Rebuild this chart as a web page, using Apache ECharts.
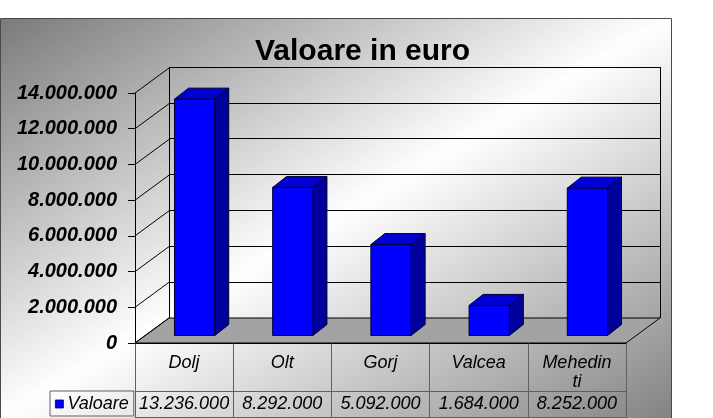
<!DOCTYPE html>
<html>
<head>
<meta charset="utf-8">
<script src="https://cdn.jsdelivr.net/npm/echarts@6/dist/echarts.min.js"></script>
<style>html,body{margin:0;padding:0;background:#fff}#c{width:713px;height:418px}</style>
</head>
<body>
<div id="c"></div>
<script>
const titleText = 'Valoare in euro';
const seriesName = 'Valoare';
const categories = ['Dolj', 'Olt', 'Gorj', 'Valcea', 'Mehedinti'];
const values = [13236000, 8292000, 5092000, 1684000, 8252000];
const yTicks = [0, 2000000, 4000000, 6000000, 8000000, 10000000, 12000000, 14000000];

const fmt = v => String(v).replace(/\B(?=(\d{3})+(?!\d))/g, '.');
const FONT = '"Liberation Sans", Arial, sans-serif';
const DEPTH = [34, -25];      // back wall offset
const BAR_FRONT = [10.5, -7.5];
const BAR_DEPTH = [14, -11];

const chart = echarts.init(document.getElementById('c'), null, {renderer: 'canvas'});

const option = {
  animation: false,
  backgroundColor: '#ffffff',
  textStyle: {fontFamily: FONT},
  graphic: [{
    type: 'rect', z: -100, silent: true,
    shape: {x: 0.5, y: 18.5, width: 671, height: 420},
    style: {
      fill: new echarts.graphic.LinearGradient(160, -77, 512, 513, [
        {offset: 0, color: '#7a7a7a'},
        {offset: 0.5, color: '#ffffff'},
        {offset: 1, color: '#838383'}
      ], true),
      stroke: '#4a4a4a', lineWidth: 1
    }
  }],
  title: {
    text: titleText, left: 250, top: 32,
    textStyle: {fontFamily: FONT, fontSize: 30, fontWeight: 'bold', color: '#000'}
  },
  legend: {
    data: [seriesName], left: 50, top: 391,
    padding: [4, 5, 3, 5], borderColor: '#606060', borderWidth: 1,
    icon: 'rect', itemWidth: 8, itemHeight: 8,
    itemStyle: {borderColor: '#000050', borderWidth: 0.8},
    textStyle: {fontFamily: FONT, fontSize: 18, fontStyle: 'italic', color: '#000', padding: [0, 0, 0, -1]}
  },
  grid: [
    {left: 135, right: 87, top: 93, bottom: 75},
    {left: 169, right: 53, top: 67, bottom: 100}
  ],
  xAxis: [
    {
      gridIndex: 0, type: 'category', data: categories, position: 'bottom',
      axisLine: {lineStyle: {color: '#000', width: 1}},
      axisTick: {show: true, interval: 0, length: 48, lineStyle: {color: '#606060'}},
      axisLabel: {
        interval: 0, margin: 10, width: 72, overflow: 'breakAll', lineHeight: 19,
        fontFamily: FONT, fontSize: 18, fontStyle: 'italic', color: '#000', align: 'center'
      },
      splitLine: {show: false}
    },
    {
      gridIndex: 0, type: 'category', data: values.map(fmt), position: 'bottom', offset: 48,
      axisLine: {lineStyle: {color: '#606060', width: 1}},
      axisTick: {show: true, interval: 0, length: 27, lineStyle: {color: '#606060'}},
      axisLabel: {interval: 0, margin: 4, fontFamily: FONT, fontSize: 18, fontStyle: 'italic', color: '#000'},
      splitLine: {show: false}
    },
    {
      gridIndex: 0, type: 'category', data: categories, position: 'bottom', offset: 74,
      axisLine: {lineStyle: {color: '#606060', width: 1}},
      axisTick: {show: false}, axisLabel: {show: false}, splitLine: {show: false}
    },
    {
      gridIndex: 1, type: 'value', min: 0, max: 1, interval: 1,
      axisLine: {show: false}, axisTick: {show: false}, axisLabel: {show: false},
      splitLine: {show: true, lineStyle: {color: '#000', width: 1}}
    }
  ],
  yAxis: [
    {
      gridIndex: 0, type: 'value', min: 0, max: 14000000, interval: 2000000,
      axisLine: {show: true, lineStyle: {color: '#000', width: 1}},
      axisTick: {show: true, length: 7, lineStyle: {color: '#000'}},
      axisLabel: {
        margin: 18, formatter: v => fmt(v),
        fontFamily: FONT, fontSize: 20, fontStyle: 'italic', fontWeight: 'bold', color: '#000'
      },
      splitLine: {show: false}
    },
    {
      gridIndex: 1, type: 'value', min: 0, max: 14000000, interval: 2000000,
      axisLine: {show: false}, axisTick: {show: false}, axisLabel: {show: false},
      splitLine: {show: true, lineStyle: {color: '#000', width: 1}}
    }
  ],
  series: [
    {
      name: 'floor', type: 'custom', xAxisIndex: 0, yAxisIndex: 0, z: 1, silent: true,
      data: [[0, 0]],
      renderItem: function (params, api) {
        const cs = params.coordSys;
        const base = api.coord([0, 0])[1];
        const x0 = cs.x, x1 = cs.x + cs.width;
        return {
          type: 'polygon',
          shape: {points: [[x0, base], [x1, base], [x1 + DEPTH[0], base + DEPTH[1]], [x0 + DEPTH[0], base + DEPTH[1]]]},
          style: {fill: '#a3a3a3', stroke: '#000', lineWidth: 1}
        };
      }
    },
    {
      name: 'sidewall', type: 'custom', xAxisIndex: 0, yAxisIndex: 0, z: 1, silent: true,
      data: yTicks.map(v => [0, v]),
      renderItem: function (params, api) {
        const cs = params.coordSys;
        const y = api.coord([0, api.value(1)])[1];
        return {
          type: 'line',
          shape: {x1: cs.x, y1: y, x2: cs.x + DEPTH[0], y2: y + DEPTH[1]},
          style: {stroke: '#000', lineWidth: 1}
        };
      }
    },
    {
      name: seriesName, type: 'custom', xAxisIndex: 0, yAxisIndex: 0, z: 3,
      itemStyle: {color: '#0000ff'},
      data: values.map((v, i) => [i, v]),
      renderItem: function (params, api) {
        const idx = api.value(0);
        const base = api.coord([idx, 0]);
        const top = api.coord([idx, api.value(1)]);
        const bw = api.size([1, 0])[0] * 0.41;
        const cx = base[0] + BAR_FRONT[0];
        const xl = cx - bw / 2, xr = cx + bw / 2;
        const yb = base[1] + BAR_FRONT[1], yt = top[1] + BAR_FRONT[1];
        const dx = BAR_DEPTH[0], dy = BAR_DEPTH[1];
        const stroke = '#000033';
        return {
          type: 'group',
          children: [
            {type: 'polygon', shape: {points: [[xr, yt], [xr + dx, yt + dy], [xr + dx, yb + dy], [xr, yb]]},
             style: {fill: '#00009c', stroke: stroke, lineWidth: 1}},
            {type: 'polygon', shape: {points: [[xl, yt], [xr, yt], [xr + dx, yt + dy], [xl + dx, yt + dy]]},
             style: {fill: '#0000d4', stroke: stroke, lineWidth: 1}},
            {type: 'rect', shape: {x: xl, y: yt, width: bw, height: yb - yt},
             style: {fill: '#0000ff', stroke: stroke, lineWidth: 1}}
          ]
        };
      }
    }
  ]
};
chart.setOption(option);
</script>
</body>
</html>
